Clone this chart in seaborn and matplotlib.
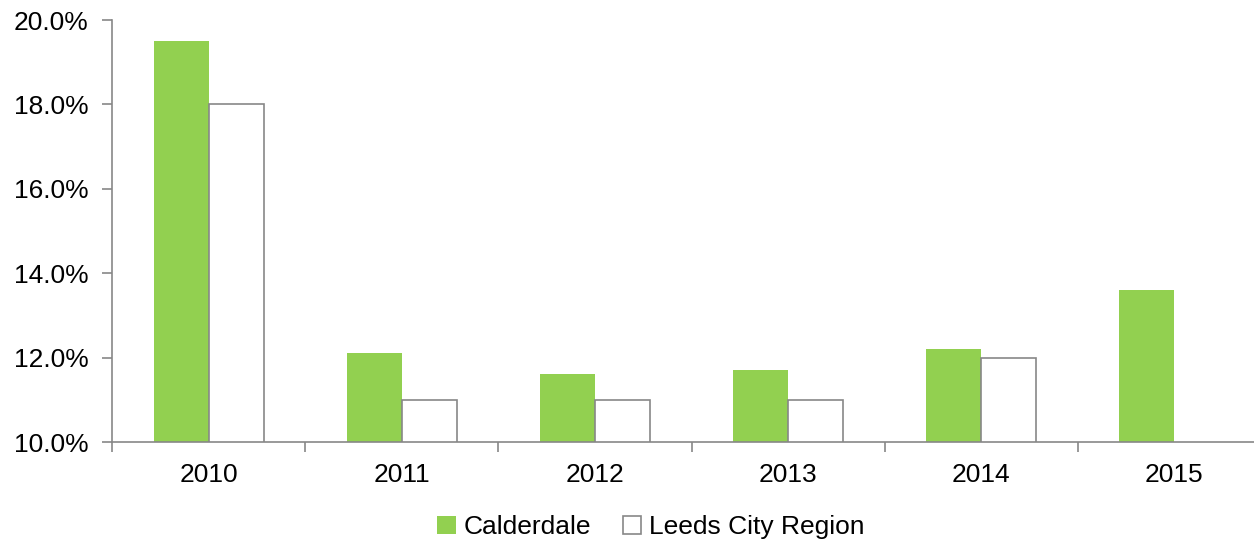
import matplotlib
matplotlib.use("Agg")
import matplotlib.pyplot as plt
import seaborn as sns
import pandas as pd
import numpy as np
from matplotlib.ticker import FuncFormatter, FixedLocator

# values (percent)
years = ["2010", "2011", "2012", "2013", "2014", "2015"]
calderdale = [19.5, 12.1, 11.6, 11.7, 12.2, 13.6]
leeds_city_region = [18.0, 11.0, 11.0, 11.0, 12.0, np.nan]

df = pd.DataFrame({
    "year": years * 2,
    "area": ["Calderdale"] * len(years) + ["Leeds City Region"] * len(years),
    "value": calderdale + leeds_city_region,
})

sns.set_style("white")
plt.rcParams['font.family'] = ['Liberation Sans', 'DejaVu Sans']
plt.rcParams['font.size'] = 19
plt.rcParams['text.color'] = 'black'

green = '#92D050'
grey = '#878787'

fig = plt.figure(figsize=(12.54, 5.43), dpi=100)
ax = fig.add_axes([112 / 1254, 1 - 442 / 543, (1271 - 112) / 1254, 422 / 543])

sns.barplot(data=df, x="year", y="value", hue="area", order=years,
            hue_order=["Calderdale", "Leeds City Region"],
            palette={"Calderdale": green, "Leeds City Region": "white"},
            width=0.57, ax=ax, legend=False, saturation=1)

for bar in ax.containers[0]:
    bar.set_edgecolor('none')
for bar in ax.containers[1]:
    bar.set_edgecolor(grey)
    bar.set_linewidth(1.2)

ax.set_ylim(10, 20)
ax.set_xlim(-0.5, 5.5)
ax.set_yticks(np.arange(10, 20.1, 2))
ax.yaxis.set_major_formatter(FuncFormatter(lambda v, p: f"{v:.1f}%"))
ax.set_xlabel("")
ax.set_ylabel("")

# category boundary tick marks on x axis
ax.xaxis.set_minor_locator(FixedLocator(np.arange(-0.5, 6, 1)))
ax.tick_params(axis='x', which='major', length=0, pad=15, labelsize=19, labelcolor='black')
ax.tick_params(axis='x', which='minor', length=7, width=1.2, color=grey, direction='out', bottom=True)
ax.tick_params(axis='y', which='major', length=7, width=1.2, color=grey, direction='out', left=True,
               pad=10, labelsize=19, labelcolor='black')

for s in ['top', 'right']:
    ax.spines[s].set_visible(False)
for s in ['left', 'bottom']:
    ax.spines[s].set_color(grey)
    ax.spines[s].set_linewidth(1.2)

handles = [ax.containers[0][0], ax.containers[1][0]]
fig.legend(handles, ["Calderdale", "Leeds City Region"], loc='center',
           bbox_to_anchor=(651 / 1254, 1 - 527 / 543), ncol=2, frameon=False,
           handlelength=0.7, handleheight=0.7, handletextpad=0.3, columnspacing=1.2,
           fontsize=19)

fig.savefig("out.png", dpi=100)
